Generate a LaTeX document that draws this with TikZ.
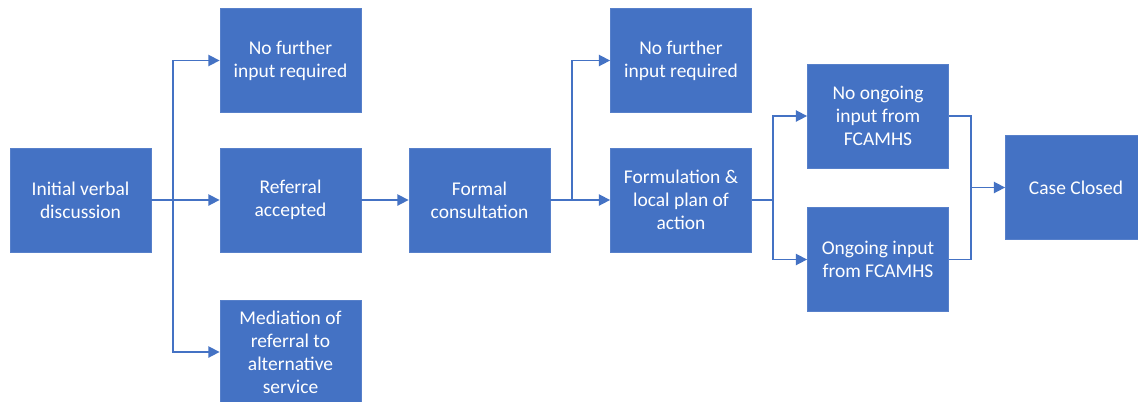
\documentclass[tikz,border=0pt]{standalone}
\usepackage{fontspec}
\setmainfont{Carlito}
\usetikzlibrary{arrows.meta}
\definecolor{boxblue}{HTML}{4472C4}
\begin{document}
\begin{tikzpicture}[x=0.75pt,y=-0.75pt,
  stepbox/.style={rectangle, fill=boxblue, draw=boxblue!90!white, line width=0.6pt, text=white,
    minimum width=105.75pt, minimum height=78pt, inner sep=2pt, align=center,
    font=\fontsize{14.6}{17.25}\selectfont},
  conn/.style={draw=boxblue, line width=1.2pt},
  arr/.style={conn, -{Triangle[length=8.5pt,width=8.5pt]}}]
\useasboundingbox[fill=white] (0,0) rectangle (1138,401);
\begin{scope}
\clip (0,0) rectangle (1138,401);
\node[stepbox] (init) at (80.5,200) {Initial verbal\\discussion};
\node[stepbox] (nf1) at (290.5,60.5) {No further\\input required};
\node[stepbox] (ref) at (290.5,200) {Referral\\accepted};
\node[stepbox] (med) at (290.5,352) {Mediation of\\referral to\\alternative\\service};
\node[stepbox] (formal) at (479.5,200) {Formal\\consultation};
\node[stepbox] (nf2) at (681,60.5) {No further\\input required};
\node[stepbox] (form) at (681,200) {Formulation \&\\local plan of\\action};
\node[stepbox] (noong) at (878,116) {No ongoing\\input from\\FCAMHS};
\node[stepbox] (ong) at (878,259.5) {Ongoing input\\from FCAMHS};
\node[stepbox] (case) at (1076,187.5) {Case Closed};

\coordinate (b1) at (173,200);
\coordinate (b2) at (572,200);
\coordinate (b3) at (773,200);
\coordinate (m1) at (971,187.5);

\draw[arr] (init.east) -- (ref.west);
\draw[arr] (b1) |- (nf1.west);
\draw[arr] (b1) |- (med.west);
\draw[arr] (ref.east) -- (formal.west);
\draw[arr] (formal.east) -- (form.west);
\draw[arr] (b2) |- (nf2.west);
\draw[conn] (form.east) -- (b3);
\draw[arr] (b3) |- (noong.west);
\draw[arr] (b3) |- (ong.west);
\draw[conn] (noong.east) -| (m1) |- (ong.east);
\draw[arr] (m1) -- (case.west);
\end{scope}
\end{tikzpicture}
\end{document}
